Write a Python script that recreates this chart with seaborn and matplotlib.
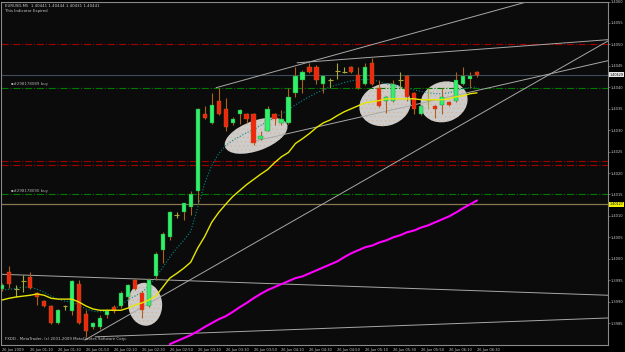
import numpy as np
import matplotlib
matplotlib.use("Agg")
import matplotlib.pyplot as plt
import seaborn as sns
from matplotlib.patches import Ellipse
from matplotlib.transforms import ScaledTranslation, blended_transform_factory

# EURUSD M5, 26 Jun 2009 00:50 -> 06:30
opens = [1.39929, 1.39969, 1.39929, 1.39948, 1.39957, 1.39920, 1.39901, 1.39890, 1.39850, 1.39890,
         1.39878, 1.39941, 1.39871, 1.39841, 1.39841, 1.39869, 1.39887, 1.39890, 1.39911, 1.39950,
         1.39920, 1.39890, 1.39959, 1.40020, 1.40050, 1.40101, 1.40108, 1.40120, 1.40159, 1.40338,
         1.40317, 1.40369, 1.40350, 1.40317, 1.40338, 1.40338, 1.40338, 1.40280, 1.40299, 1.40338,
         1.40317, 1.40317, 1.40387, 1.40418, 1.40448, 1.40448, 1.40408, 1.40418, 1.40438, 1.40436,
         1.40448, 1.40429, 1.40408, 1.40457, 1.40399, 1.40369, 1.40369, 1.40418, 1.40427, 1.40387,
         1.40338, 1.40371, 1.40357, 1.40359, 1.40366, 1.40369, 1.40408, 1.40420, 1.40436]
highs = [1.39943, 1.39983, 1.39938, 1.39962, 1.39969, 1.39922, 1.39904, 1.39892, 1.39883, 1.39892,
         1.39950, 1.39950, 1.39880, 1.39852, 1.39869, 1.39883, 1.39892, 1.39925, 1.39941, 1.39952,
         1.39925, 1.39955, 1.40015, 1.40062, 1.40111, 1.40108, 1.40131, 1.40159, 1.40352, 1.40357,
         1.40387, 1.40399, 1.40376, 1.40331, 1.40350, 1.40341, 1.40341, 1.40299, 1.40357, 1.40341,
         1.40348, 1.40399, 1.40448, 1.40441, 1.40457, 1.40452, 1.40429, 1.40422, 1.40457, 1.40448,
         1.40450, 1.40448, 1.40457, 1.40469, 1.40418, 1.40380, 1.40418, 1.40436, 1.40429, 1.40390,
         1.40359, 1.40399, 1.40359, 1.40399, 1.40369, 1.40436, 1.40448, 1.40436, 1.40438]
lows = [1.39925, 1.39931, 1.39911, 1.39922, 1.39929, 1.39892, 1.39887, 1.39848, 1.39848, 1.39880,
        1.39869, 1.39848, 1.39818, 1.39836, 1.39836, 1.39862, 1.39873, 1.39885, 1.39906, 1.39927,
        1.39862, 1.39887, 1.39950, 1.39990, 1.40043, 1.40094, 1.40090, 1.40101, 1.40131, 1.40327,
        1.40315, 1.40336, 1.40299, 1.40313, 1.40315, 1.40317, 1.40266, 1.40276, 1.40297, 1.40313,
        1.40313, 1.40315, 1.40378, 1.40387, 1.40434, 1.40408, 1.40387, 1.40399, 1.40420, 1.40434,
        1.40434, 1.40397, 1.40406, 1.40406, 1.40355, 1.40341, 1.40366, 1.40399, 1.40369, 1.40338,
        1.40336, 1.40350, 1.40329, 1.40338, 1.40357, 1.40366, 1.40406, 1.40399, 1.40424]
closes = [1.39938, 1.39941, 1.39929, 1.39948, 1.39931, 1.39911, 1.39890, 1.39850, 1.39880, 1.39890,
          1.39948, 1.39850, 1.39831, 1.39850, 1.39862, 1.39878, 1.39878, 1.39920, 1.39938, 1.39929,
          1.39880, 1.39950, 1.40011, 1.40059, 1.40108, 1.40101, 1.40129, 1.40150, 1.40350, 1.40329,
          1.40359, 1.40338, 1.40308, 1.40327, 1.40348, 1.40327, 1.40269, 1.40287, 1.40350, 1.40327,
          1.40327, 1.40378, 1.40427, 1.40436, 1.40436, 1.40418, 1.40427, 1.40418, 1.40438, 1.40436,
          1.40436, 1.40399, 1.40448, 1.40408, 1.40357, 1.40378, 1.40408, 1.40418, 1.40378, 1.40350,
          1.40357, 1.40371, 1.40350, 1.40378, 1.40359, 1.40418, 1.40427, 1.40427, 1.40429]

# moving averages
ma_yellow = [1.39904, 1.39908, 1.39911, 1.39913, 1.39915, 1.39918, 1.39915, 1.39908, 1.39906, 1.39906,
             1.39906, 1.39899, 1.39890, 1.39883, 1.39880, 1.39880, 1.39880, 1.39880, 1.39885, 1.39892,
             1.39897, 1.39904, 1.39913, 1.39934, 1.39955, 1.39966, 1.39978, 1.39992, 1.40025, 1.40052,
             1.40085, 1.40108, 1.40127, 1.40145, 1.40159, 1.40173, 1.40185, 1.40197, 1.40208, 1.40224,
             1.40238, 1.40248, 1.40269, 1.40280, 1.40292, 1.40306, 1.40317, 1.40324, 1.40334, 1.40343,
             1.40350, 1.40357, 1.40364, 1.40366, 1.40369, 1.40373, 1.40373, 1.40373, 1.40373, 1.40373,
             1.40371, 1.40371, 1.40371, 1.40371, 1.40373, 1.40378, 1.40380, 1.40385, 1.40387]
ma_teal = [1.39927, 1.39929, 1.39931, 1.39934, 1.39934, 1.39929, 1.39922, 1.39913, 1.39906, 1.39901,
           1.39899, 1.39892, 1.39883, 1.39878, 1.39876, 1.39878, 1.39883, 1.39892, 1.39904, 1.39913,
           1.39922, 1.39936, 1.39957, 1.39980, 1.40004, 1.40025, 1.40043, 1.40064, 1.40120, 1.40176,
           1.40217, 1.40245, 1.40264, 1.40276, 1.40285, 1.40294, 1.40301, 1.40311, 1.40320, 1.40329,
           1.40338, 1.40348, 1.40359, 1.40369, 1.40378, 1.40387, 1.40394, 1.40401, 1.40406, 1.40411,
           1.40415, 1.40418, 1.40418, 1.40418, 1.40413, 1.40408, 1.40404, 1.40401, 1.40399, 1.40394,
           1.40390, 1.40387, 1.40385, 1.40385, 1.40387, 1.40392, 1.40397, 1.40399, 1.40401]
ma_magenta = [np.nan] * 24 + [
    1.39801, 1.39808, 1.39815, 1.39822, 1.39831, 1.39841, 1.39850, 1.39859, 1.39866, 1.39876,
    1.39887, 1.39897, 1.39908, 1.39918, 1.39927, 1.39934, 1.39941, 1.39948, 1.39955, 1.39959,
    1.39966, 1.39973, 1.39980, 1.39987, 1.39994, 1.40004, 1.40013, 1.40020, 1.40027, 1.40031,
    1.40038, 1.40043, 1.40050, 1.40055, 1.40062, 1.40066, 1.40073, 1.40078, 1.40085, 1.40092,
    1.40099, 1.40108, 1.40118, 1.40127, 1.40136]

time_labels = ["26 Jun 2009", "26 Jun 01:10", "26 Jun 01:30", "26 Jun 01:50", "26 Jun 02:10",
               "26 Jun 02:30", "26 Jun 02:50", "26 Jun 03:10", "26 Jun 03:30", "26 Jun 03:50",
               "26 Jun 04:10", "26 Jun 04:30", "26 Jun 04:50", "26 Jun 05:10", "26 Jun 05:30",
               "26 Jun 05:50", "26 Jun 06:10", "26 Jun 06:30"]
price_ticks = [1.3985, 1.3990, 1.3995, 1.4000, 1.4005, 1.4010, 1.4015, 1.4020, 1.4025,
               1.4030, 1.4035, 1.4040, 1.4045, 1.4050, 1.4055, 1.4060]

red_levels = [1.4050, 1.40229, 1.40219]
buy_levels = [1.40399, 1.40150]
buy_labels = ["#298178089 buy", "#298178090 buy"]
bid_price = 1.40429
tan_level = 1.40127

# trend lines as (bar, price) -> (bar, price)
trend_lines = [
    ((30.64, 1.40399), (80.0, 1.40621)),
    ((42.23, 1.40457), (86.76, 1.40511)),
    ((35.79, 1.40273), (86.76, 1.40462)),
    ((11.88, 1.39811), (86.76, 1.40508)),
    ((-0.3, 1.39964), (86.76, 1.39915)),
    ((13.31, 1.39818), (86.76, 1.39862)),
]
# ellipses: bar, price, width px, height px, angle
ellipses = [
    (36.36, 1.40287, 66, 30, 20),
    (20.47, 1.39894, 34, 43, 5),
    (54.83, 1.40359, 52, 42, 15),
    (63.28, 1.40366, 48, 40, 20),
]

sns.set_theme(style="dark")
plt.rcParams["font.family"] = ["DejaVu Sans"]
plt.rcParams["hatch.linewidth"] = 0.3

fig = plt.figure(figsize=(6.25, 3.52), dpi=100, facecolor="#000000")
ax = fig.add_axes([1.5 / 625, 1 - 345 / 352, (608 - 1.5) / 625, (345 - 1.5) / 352])
ax.set_facecolor("#0b0b0b")

idx = np.arange(len(opens))
o = np.array(opens)
c = np.array(closes)

# ellipses behind everything
for cx, cy, w, h, ang in ellipses:
    tr = fig.dpi_scale_trans + ScaledTranslation(cx, cy, ax.transData)
    ax.add_patch(Ellipse((0, 0), w / 100, h / 100, angle=ang, transform=tr,
                         facecolor="#cdcccb", edgecolor="#d8b08a", hatch="....",
                         linewidth=0, zorder=1))

# horizontal levels
for lv in red_levels:
    ax.axhline(lv, color="#a00000", lw=0.8, ls="-.", zorder=1.5)
for lv, lab in zip(buy_levels, buy_labels):
    ax.axhline(lv, color="#007a00", lw=0.8, ls="-.", zorder=1.5)
    ax.text(1.2, lv + 0.00004, "\u25aa" + lab, color="#b0b0b0", fontsize=2.8,
            va="bottom", ha="left", zorder=5)
ax.axhline(bid_price, color="#3f4c5a", lw=0.8, zorder=1.5)
ax.axhline(tan_level, color="#8a7850", lw=0.9, zorder=1.5)

# trend lines
for (x0, y0), (x1, y1) in trend_lines:
    ax.plot([x0, x1], [y0, y1], color="#a8a8a8", lw=0.7, zorder=2)

# indicators
sns.lineplot(x=idx, y=ma_magenta, ax=ax, color="#ff00ff", lw=1.5, zorder=2)
sns.lineplot(x=idx, y=ma_teal, ax=ax, color="#008b8b", lw=0.8, ls=":", zorder=2)

# candles
up = c > o
down = c < o
doji = c == o
wick_col = np.where(doji, "#a8a832", "#b0601a")
ax.vlines(idx, lows, highs, colors=wick_col, lw=0.8, zorder=3)
ax.bar(idx[up], (c - o)[up], bottom=o[up], width=0.6, color="#33f06a",
       edgecolor="#1a8a3a", linewidth=0.3, zorder=4)
ax.bar(idx[down], (c - o)[down], bottom=o[down], width=0.6, color="#f0260e",
       edgecolor="#b0601a", linewidth=0.3, zorder=4)
ax.hlines(o[doji], idx[doji] - 0.35, idx[doji] + 0.35, colors="#a8a832", lw=0.8, zorder=4)

sns.lineplot(x=idx, y=ma_yellow, ax=ax, color="#e6e600", lw=1.0, zorder=5)

ax.set_xlim(-0.1, 86.76)
ax.set_ylim(1.39799, 1.40600)

# axes styling
for sp in ax.spines.values():
    sp.set_color("#8a8a8a")
    sp.set_linewidth(0.8)
    sp.set_visible(True)
ax.yaxis.tick_right()
ax.set_yticks(price_ticks)
ax.set_yticklabels([f"{p:.4f}" for p in price_ticks])
ax.set_xticks(np.arange(0, len(opens), 4))
ax.set_xticklabels(time_labels, ha="left")
ax.tick_params(axis="both", colors="#8a8a8a", labelcolor="#c8c8c8", labelsize=2.6,
               length=1.5, width=0.5, pad=0.6)
ax.set_xlabel("")
ax.set_ylabel("")
ax.grid(False)

# price boxes on the right scale
bt = blended_transform_factory(ax.transAxes, ax.transData)
ax.text(1.003, bid_price, f"{closes[-1]:.5f}", transform=bt, fontsize=2.4, color="#000000",
        va="center", ha="left", clip_on=False,
        bbox=dict(boxstyle="square,pad=0.1", fc="#e8e8e8", ec="none"))
ax.text(1.003, tan_level, f"{tan_level:.5f}", transform=bt, fontsize=2.4, color="#000000",
        va="center", ha="left", clip_on=False,
        bbox=dict(boxstyle="square,pad=0.1", fc="#f0f000", ec="none"))

# header and footer texts
ax.text(0.006, 0.993, "EURUSD,M5  1.40441 1.40444 1.40431 1.40441", transform=ax.transAxes,
        fontsize=2.8, color="#c8c8c8", va="top", ha="left")
ax.text(0.006, 0.978, "This Indicator Expired", transform=ax.transAxes,
        fontsize=2.8, color="#c8c8c8", va="top", ha="left")
ax.text(0.006, 0.012, "FXDD - MetaTrader, (c) 2001-2009 MetaQuotes Software Corp.",
        transform=ax.transAxes, fontsize=2.8, color="#c8c8c8", va="bottom", ha="left")

fig.savefig("out.png", dpi=100, facecolor=fig.get_facecolor())
